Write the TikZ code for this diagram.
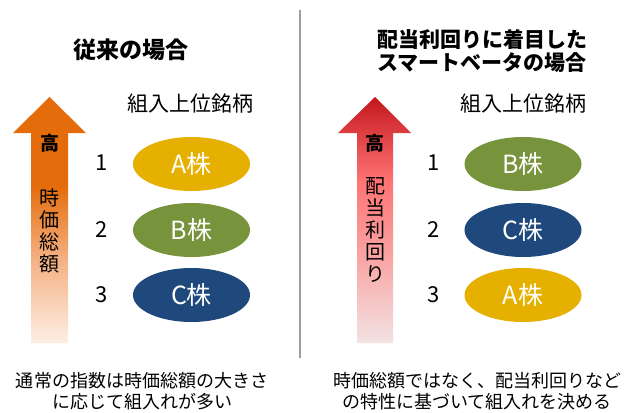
\documentclass[tikz,border=0pt]{standalone}
\usepackage{fontspec}
\setmainfont{Noto Sans CJK JP}
\usetikzlibrary{shapes.geometric}
\definecolor{cA}{HTML}{E6B000}
\definecolor{cB}{HTML}{77933C}
\definecolor{cC}{HTML}{1F497D}
\definecolor{orA}{HTML}{E46C0A}
\definecolor{orB}{HTML}{F4B183}
\definecolor{orC}{HTML}{FDEEE4}
\definecolor{rdA}{HTML}{C3171D}
\definecolor{rdB}{HTML}{FF7373}
\definecolor{rdC}{HTML}{F2E3E3}
\pgfdeclareverticalshading{orangearrow}{100bp}{color(0bp)=(orC); color(25bp)=(orC); color(42bp)=(orB); color(57bp)=(orA); color(75bp)=(orA); color(100bp)=(orA)}
\pgfdeclareverticalshading{redarrow}{100bp}{color(0bp)=(rdC); color(25bp)=(rdC); color(42bp)=(rdB!55!rdC); color(58bp)=(rdB); color(75bp)=(rdA); color(100bp)=(rdA)}
\tikzset{
  stock/.style={ellipse, minimum width=117pt, minimum height=54pt, inner sep=0pt, text=white, font=\fontsize{25}{28}\selectfont},
  rank/.style={font=\fontsize{22}{24}\selectfont},
  headL/.style={font=\bfseries\fontsize{23}{26}\selectfont, align=center},
  headR/.style={font=\bfseries\fontsize{21}{23}\selectfont, align=center},
  sub/.style={font=\fontsize{21}{24}\selectfont},
  foot/.style={font=\fontsize{18}{21}\selectfont, align=center},
  vert/.style={font=\fontsize{20}{22}\selectfont, align=center},
  high/.style={font=\bfseries\fontsize{19}{20}\selectfont}
}
\begin{document}
\begin{tikzpicture}[x=1pt,y=-1pt]
\useasboundingbox (0,0) rectangle (644,412);
% divider
\draw[line width=1.3pt, color=black!38] (300,10) -- (300,358);
% arrows
\shade[shading=orangearrow] (31,343) -- (31,133) -- (13,133) -- (49.5,97) -- (86,133) -- (68,133) -- (68,343) -- cycle;
\shade[shading=redarrow] (357,343) -- (357,133) -- (338,133) -- (375,97) -- (411,133) -- (393,133) -- (393,343) -- cycle;
% headings
\node[headL] (hL) at (130.5,50) {従来の場合};
\node[headR] (hR) at (482,51.5) {配当利回りに着目した\\スマートベータの場合};
\node[sub] (sL) at (190.5,104) {組入上位銘柄};
\node[sub] (sR) at (523,104) {組入上位銘柄};
% arrow labels
\node[high] (gL) at (49.5,143) {高};
\node[high] (gR) at (375,143) {高};
\node[vert] (vL) at (49.5,231) {時\\価\\総\\額};
\node[vert] (vR) at (375,230) {配\\当\\利\\回\\り};
% ranks
\foreach \i/\y in {1/163,2/230,3/295}{
  \node[rank] (nL\i) at (102,\y) {\i};
  \node[rank] (nR\i) at (434,\y) {\i};
}
% ellipses
\node[stock, fill=cA] (eL1) at (191.5,164) {A株};
\node[stock, fill=cB] (eL2) at (191.5,230) {B株};
\node[stock, fill=cC] (eL3) at (191.5,295) {C株};
\node[stock, fill=cB] (eR1) at (523,164) {B株};
\node[stock, fill=cC] (eR2) at (523,230) {C株};
\node[stock, fill=cA] (eR3) at (523,295) {A株};
% footers
\node[foot] (fL) at (142,391) {通常の指数は時価総額の大きさ\\に応じて組入れが多い};
\node[foot] (fR) at (477,391) {時価総額ではなく、配当利回りなど\\の特性に基づいて組入れを決める};
\end{tikzpicture}
\end{document}
